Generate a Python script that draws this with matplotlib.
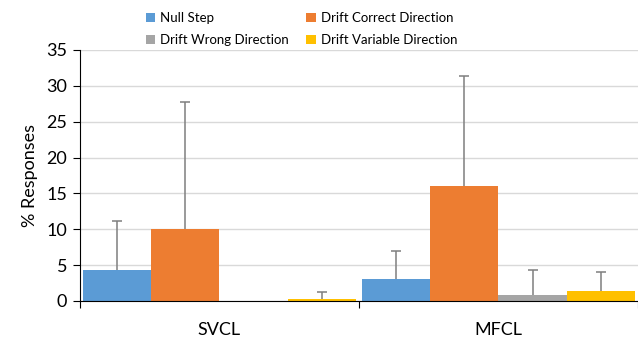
import numpy as np
import matplotlib.pyplot as plt

plt.rcParams['font.family'] = ['Lato', 'DejaVu Sans']

groups = ["SVCL", "MFCL"]
series = ["Null Step", "Drift Correct Direction", "Drift Wrong Direction", "Drift Variable Direction"]
colors = ["#5B9BD5", "#ED7D31", "#A5A5A5", "#FFC000"]

# mean % responses per group, one list per series
null_step = [4.3, 3.0]
drift_correct = [10.0, 16.0]
drift_wrong = [0.0, 0.9]
drift_variable = [0.25, 1.4]

# upper error (sd) per group
null_step_err = [6.8, 4.0]
drift_correct_err = [17.7, 15.4]
drift_wrong_err = [0.0, 3.4]
drift_variable_err = [0.95, 2.7]

values = [null_step, drift_correct, drift_wrong, drift_variable]
errors = [null_step_err, drift_correct_err, drift_wrong_err, drift_variable_err]

fig = plt.figure(figsize=(6.38, 3.42), dpi=100)
ax = fig.add_axes([0.125, 0.12, 0.875, 0.734])

x = np.arange(len(groups))
w = 0.245
handles = []
for i in range(4):
    pos = x + (i - 1.5) * w
    h = ax.bar(pos, values[i], w, color=colors[i], label=series[i], zorder=2)
    handles.append(h)
    errs = np.array(errors[i])
    show = errs > 0
    eb = ax.errorbar(pos[show], np.array(values[i])[show],
                     yerr=[np.zeros(show.sum()), errs[show]],
                     fmt="none", ecolor="#7F7F7F", elinewidth=1.1,
                     capsize=3.5, capthick=1.1, zorder=3)
    # only keep the upper cap
    eb[1][0].set_visible(False)

ax.set_xlim(-0.5, 1.5)
ax.set_ylim(0, 35)
ax.set_yticks(np.arange(0, 36, 5))
ax.yaxis.grid(True, color="#D9D9D9", linewidth=1)
ax.set_axisbelow(True)

ax.set_xticks([-0.5, 0.5, 1.5])
ax.set_xticklabels([])
ax.set_xticks(x, minor=True)
ax.set_xticklabels(groups, minor=True, fontsize=13)
ax.tick_params(axis="x", which="minor", length=0, pad=15)
ax.tick_params(axis="x", which="major", length=5, direction="out")
ax.tick_params(axis="y", length=5, direction="out", labelsize=13, pad=4)

for s in ["top", "right"]:
    ax.spines[s].set_visible(False)
ax.spines["left"].set_color("black")
ax.spines["bottom"].set_color("black")
ax.set_ylabel("% Responses", fontsize=13, labelpad=6)

# legend reads row by row: matplotlib fills columns first, so reorder
order = [0, 2, 1, 3]
fig.legend([handles[k] for k in order], [series[k] for k in order],
           loc="upper left", bbox_to_anchor=(0.21, 1.0), ncol=2, frameon=False,
           fontsize=9.5, handlelength=0.7, handleheight=0.7, handletextpad=0.4,
           columnspacing=1.3, labelspacing=0.75)

fig.savefig("out.png", dpi=100)
